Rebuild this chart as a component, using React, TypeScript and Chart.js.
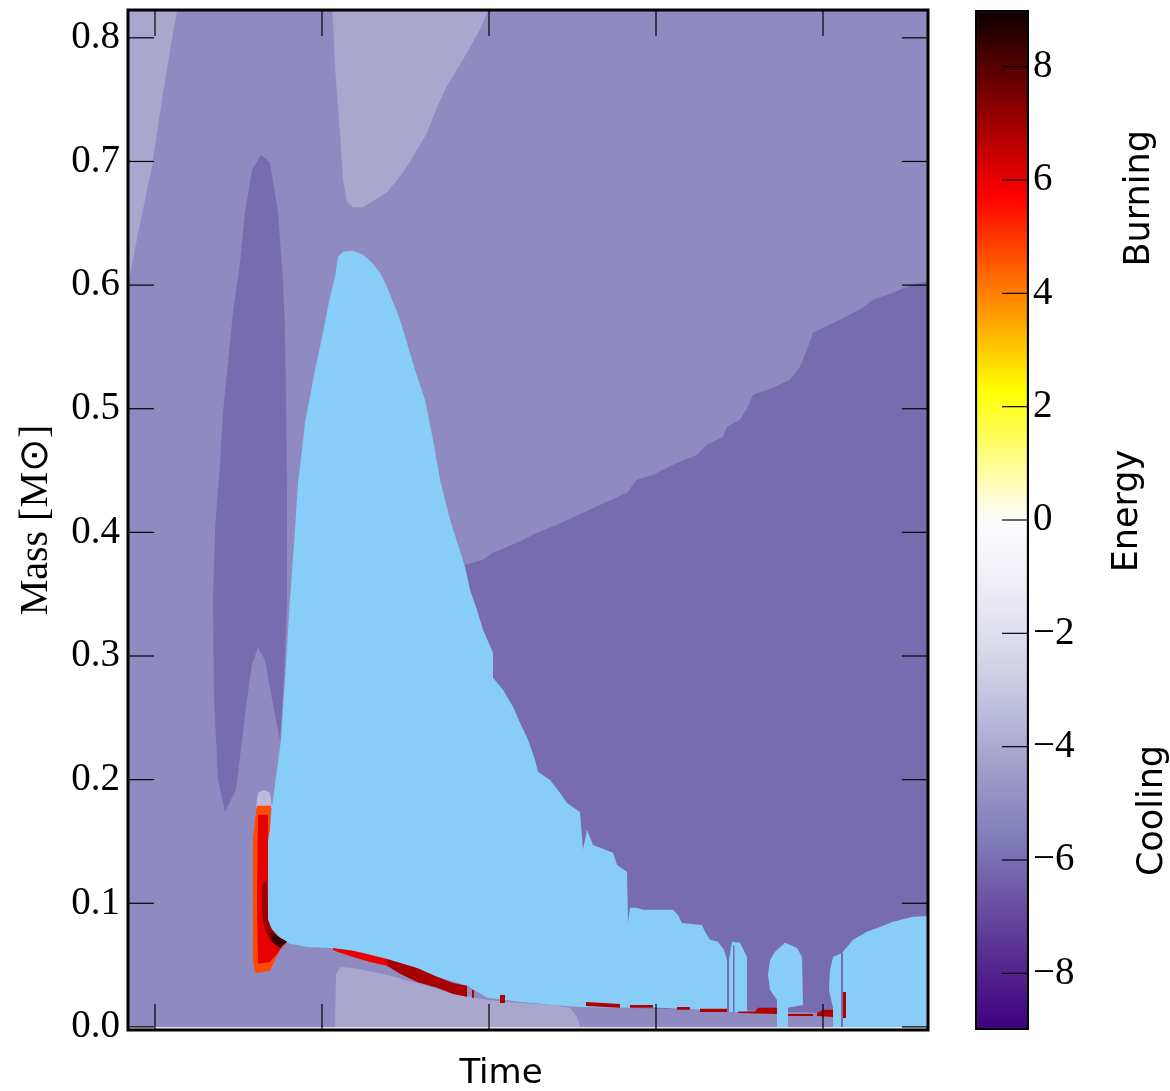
import React, { useEffect, useRef } from 'react';
import { Chart, registerables } from 'chart.js';

Chart.register(...registerables);

type Pt = [number, number];

// ---------- axes ----------
const X_TITLE = 'Time     ';
const Y_TITLE = 'Mass [M⊙]';
const TIME_RANGE: Pt = [0, 800];
const TIME_TICKS = [27, 194, 361, 528, 695];
const MASS_RANGE: Pt = [-0.0025, 0.8225];
const MASS_TICKS = [0, 0.1, 0.2, 0.3, 0.4, 0.5, 0.6, 0.7, 0.8];
const ENERGY_RANGE: Pt = [-9, 9];
const ENERGY_TICKS = [-8, -6, -4, -2, 0, 2, 4, 6, 8];
const SIDE_LABELS = ['Energy', 'Burning', 'Cooling'];
const SIDE_LABEL_AT = [1.24, 6.88, -3.97];

// colour map of the energy bar (value, colour)
const CMAP: [number, string][] = [
  [-9, '#3f007d'], [-7.875, '#54278f'], [-6.75, '#6a51a3'], [-5.625, '#807dba'],
  [-4.5, '#9e9ac8'], [-3.375, '#bcbddc'], [-2.25, '#dadaeb'], [-1.125, '#efedf5'],
  [0, '#fdfcfe'], [2.29, '#ffff00'], [5.71, '#ff0000'], [9, '#0b0000'],
];

// ---------- regions (time, mass) ----------
const background: Pt[] = [[0, 0], [800, 0], [800, 0.83], [0, 0.83]];
const baseStripe: Pt[] = [[0, -0.01], [800, -0.01], [800, 0], [0, 0]];

const lightTopLeft: Pt[] = [[0, 0.83], [51, 0.83], [45, 0.804], [34, 0.75], [24, 0.696], [10, 0.642], [5, 0.621], [0, 0.6]];

const lightTopMid: Pt[] = [[204, 0.83], [207, 0.777], [212, 0.723], [215, 0.685], [219, 0.667], [225, 0.663], [235, 0.663],
  [245, 0.668], [259, 0.675], [275, 0.691], [285, 0.704], [299, 0.723], [309, 0.744], [319, 0.761], [339, 0.788],
  [352, 0.807], [359, 0.82], [364, 0.83]];

const darkLobe: Pt[] = [[133, 0.7055], [142, 0.699], [150, 0.659], [155, 0.604], [157, 0.564], [158, 0.507], [159, 0.426],
  [159, 0.346], [156, 0.281], [152, 0.232], [144, 0.265], [137, 0.297], [130, 0.307], [124, 0.293], [119, 0.265],
  [114, 0.232], [108, 0.192], [97, 0.174], [90, 0.2], [86, 0.265], [85, 0.346], [87, 0.402], [92, 0.456], [95, 0.497],
  [100, 0.537], [105, 0.578], [112, 0.618], [117, 0.659], [124, 0.693]];

const darkRight: Pt[] = [[330, 0.3738], [337, 0.3738], [355, 0.3778], [365, 0.3835], [389, 0.3916], [409, 0.3997],
  [429, 0.4061], [455, 0.4159], [479, 0.4248], [499, 0.432], [509, 0.4426], [525, 0.4466], [545, 0.4547], [569, 0.4628],
  [579, 0.4709], [595, 0.4773], [599, 0.4854], [612, 0.4911], [620, 0.5016], [625, 0.5113], [645, 0.517], [662, 0.5235],
  [672, 0.534], [679, 0.5477], [685, 0.5615], [695, 0.5655], [712, 0.572], [735, 0.5817], [745, 0.5882], [765, 0.5939],
  [779, 0.5987], [792, 0.6019], [800, 0.6027], [800, 0.0105], [705, 0.0105], [675, 0.0121], [640, 0.0121], [619, 0.0138],
  [572, 0.0138], [492, 0.0154], [425, 0.0178], [392, 0.0202], [359, 0.0235], [339, 0.0332], [330, 0.0375]];

const lightBottom: Pt[] = [[207, 0], [208, 0.0421], [212, 0.0485], [225, 0.0477], [259, 0.0421], [289, 0.0356],
  [325, 0.0275], [359, 0.0218], [392, 0.0194], [425, 0.0178], [442, 0.0154], [449, 0.0081], [452, 0]];

const blueMain: Pt[] = [[225, 0.6278], [215, 0.627], [210, 0.623], [207, 0.6068], [202, 0.5906], [197, 0.5696],
  [192, 0.5502], [187, 0.5316], [182, 0.5097], [177, 0.4887], [174, 0.4668], [170, 0.4401], [167, 0.4021], [162, 0.3455],
  [157, 0.2807], [153, 0.2322], [149, 0.2079], [144, 0.178], [140, 0.1513], [140, 0.0866], [142, 0.0809], [152, 0.0704],
  [162, 0.0672], [179, 0.0647], [202, 0.0639], [225, 0.0615], [259, 0.055], [289, 0.0477], [309, 0.0405], [339, 0.0332],
  [359, 0.0235], [392, 0.0202], [425, 0.0178], [452, 0.0162], [492, 0.0154], [532, 0.0154], [572, 0.0138], [619, 0.0113],
  [619, 0.0566], [612, 0.068], [604, 0.0688], [601, 0.0542], [599, 0.0542], [596, 0.0623], [590, 0.0688], [582, 0.0704],
  [577, 0.0769], [574, 0.0825], [554, 0.0841], [550, 0.0906], [545, 0.0947], [515, 0.0947], [509, 0.0963], [502, 0.0963],
  [500, 0.0841], [499, 0.1254], [492, 0.1294], [489, 0.1311], [485, 0.1408], [465, 0.1472], [459, 0.1594], [455, 0.1432],
  [452, 0.1739], [439, 0.1812], [432, 0.1893], [422, 0.1998], [410, 0.2063], [407, 0.216], [400, 0.2322], [392, 0.246],
  [385, 0.2589], [375, 0.2727], [365, 0.2824], [365, 0.3026], [355, 0.3212], [349, 0.3374], [342, 0.3536], [337, 0.3722],
  [330, 0.39], [322, 0.4102], [312, 0.4426], [305, 0.4749], [297, 0.5073], [287, 0.5316], [272, 0.572], [259, 0.5987],
  [252, 0.61], [244, 0.6181], [235, 0.6246]];

const blueBump: Pt[] = [[649, 0], [649, 0.0218], [642, 0.0299], [640, 0.0421], [642, 0.0542], [647, 0.0607], [657, 0.068],
  [669, 0.0639], [674, 0.0566], [675, 0.0178], [660, 0.0154], [660, 0]];

const blueRight: Pt[] = [[705, 0], [705, 0.0154], [701, 0.0299], [702, 0.0461], [705, 0.0566], [714, 0.0599], [719, 0.0647],
  [725, 0.0704], [739, 0.0769], [752, 0.0809], [765, 0.085], [785, 0.089], [800, 0.0898], [800, 0]];

const blueGaps: Pt[][] = [
  [[599, 0.0542], [601, 0.0542], [601, 0.012], [599, 0.012]],
  [[605, 0.066], [606.5, 0.066], [606.5, 0.012], [605, 0.012]],
  [[713, 0.0599], [715, 0.0599], [715, 0], [713, 0]],
];

const burnCap: Pt[] = [[128, 0.1772], [130, 0.1893], [136, 0.1917], [142, 0.1893], [144, 0.1772]];
const burnOuter: Pt[] = [[129, 0.1788], [143, 0.1788], [142, 0.1593], [140, 0.1513], [140, 0.0866], [142, 0.0809],
  [150, 0.0728], [159, 0.0688], [152, 0.0623], [147, 0.0542], [142, 0.0453], [127, 0.0437], [125, 0.0542], [125, 0.1513],
  [127, 0.1675]];
const burnInner: Pt[] = [[130, 0.1715], [140, 0.1715], [140, 0.0866], [142, 0.0809], [150, 0.0728], [157, 0.0688],
  [150, 0.0599], [142, 0.0526], [130, 0.051], [129, 0.1028]];
const burnDeep: Pt[] = [[134, 0.1149], [139, 0.1189], [140, 0.0866], [144, 0.0785], [152, 0.072], [159, 0.0688],
  [155, 0.0663], [148, 0.0663], [142, 0.0704], [137, 0.0785], [134, 0.0906]];
const burnCore: Pt[] = [[142, 0.0769], [159, 0.0688], [152, 0.0639], [144, 0.0688]];

const bandBright: Pt[] = [[205, 0.0639], [225, 0.0615], [242, 0.0583], [259, 0.055], [259, 0.0494], [242, 0.0526],
  [225, 0.0566], [212, 0.0599], [205, 0.0623]];
const bandDark: Pt[] = [[259, 0.055], [289, 0.0477], [309, 0.0405], [325, 0.0356], [339, 0.0332], [339, 0.0243],
  [325, 0.0267], [309, 0.0316], [289, 0.0364], [272, 0.0429], [259, 0.0494]];

const redSpecks: Pt[][] = [
  [[344, 0.0299], [346, 0.0299], [346, 0.0235], [344, 0.0235]],
  [[372, 0.0259], [377, 0.0259], [377, 0.0194], [372, 0.0194]],
  [[458, 0.0202], [492, 0.0186], [492, 0.0154], [458, 0.017]],
  [[502, 0.0178], [525, 0.0178], [525, 0.0154], [502, 0.0154]],
  [[549, 0.0162], [562, 0.0162], [562, 0.0138], [549, 0.0138]],
  [[572, 0.0146], [599, 0.0146], [599, 0.0121], [572, 0.0121]],
  [[610, 0.0125], [627, 0.0125], [630, 0.0154], [649, 0.0154], [649, 0.0105], [610, 0.0113]],
  [[660, 0.0105], [685, 0.0105], [685, 0.0089], [660, 0.0089]],
  [[689, 0.0113], [695, 0.0138], [705, 0.0138], [705, 0.0081], [689, 0.0089]],
  [[715, 0.0283], [718, 0.0283], [718, 0.0073], [715, 0.0073]],
];

const C_MED = '#8f8bc1';
const C_LIGHT = '#aaa7cf';
const C_DARK = '#776caf';
const C_BLUE = '#87cdf8';

const REGIONS: { pts: Pt[]; color: string }[] = [
  { pts: background, color: C_MED },
  { pts: lightTopLeft, color: C_LIGHT },
  { pts: lightTopMid, color: C_LIGHT },
  { pts: darkLobe, color: C_DARK },
  { pts: darkRight, color: C_DARK },
  { pts: lightBottom, color: C_LIGHT },
  { pts: blueMain, color: C_BLUE },
  { pts: blueBump, color: C_BLUE },
  { pts: blueRight, color: C_BLUE },
  ...blueGaps.map((p) => ({ pts: p, color: C_DARK })),
  { pts: burnCap, color: '#bdb9da' },
  { pts: burnOuter, color: '#ff4a00' },
  { pts: burnInner, color: '#e60000' },
  { pts: burnDeep, color: '#9c0000' },
  { pts: burnCore, color: '#3a0000' },
  { pts: bandBright, color: '#ee0000' },
  { pts: bandDark, color: '#a80000' },
  ...redSpecks.map((p) => ({ pts: p, color: '#b00000' })),
  { pts: baseStripe, color: '#e6e4f0' },
];

const frameTicks = {
  id: 'frameTicks',
  afterDraw(chart: any) {
    const { ctx, chartArea: a, scales } = chart;
    const x = scales.x;
    const y = scales.y;
    const L = 26;
    ctx.save();
    ctx.strokeStyle = '#000';
    ctx.lineWidth = 1.2;
    const seg = (x1: number, y1: number, x2: number, y2: number) => {
      ctx.beginPath();
      ctx.moveTo(x1, y1);
      ctx.lineTo(x2, y2);
      ctx.stroke();
    };
    MASS_TICKS.forEach((v) => {
      const p = y.getPixelForValue(v);
      seg(a.left, p, a.left + L, p);
      seg(a.right - L, p, a.right, p);
    });
    TIME_TICKS.forEach((v) => {
      const p = x.getPixelForValue(v);
      seg(p, a.bottom, p, a.bottom - L);
      seg(p, a.top, p, a.top + L);
    });
    ctx.lineWidth = 3;
    ctx.strokeRect(a.left, a.top, a.right - a.left, a.bottom - a.top);
    ctx.restore();
  },
};

const barTicks = {
  id: 'barTicks',
  afterDraw(chart: any) {
    const { ctx, chartArea: a, scales } = chart;
    const y = scales.y;
    ctx.save();
    ctx.strokeStyle = '#000';
    ctx.lineWidth = 1.2;
    ENERGY_TICKS.forEach((v) => {
      const p = y.getPixelForValue(v);
      ctx.beginPath();
      ctx.moveTo(a.right - 27, p);
      ctx.lineTo(a.right, p);
      ctx.stroke();
    });
    ctx.restore();
  },
};

const sideAxis = (i: number, weight: number, width: number) => ({
  axis: 'y',
  type: 'linear',
  position: 'right',
  weight,
  min: ENERGY_RANGE[0],
  max: ENERGY_RANGE[1],
  grid: { display: false, drawTicks: false, tickLength: 0 },
  border: { display: false },
  afterBuildTicks: (s: any) => {
    s.ticks = [{ value: SIDE_LABEL_AT[i] }];
  },
  ticks: {
    autoSkip: false,
    mirror: true,
    minRotation: 90,
    maxRotation: 90,
    padding: 0,
    color: '#000',
    font: { family: 'DejaVu Sans', size: 35 },
    callback: () => SIDE_LABELS[i],
  },
  afterFit: (s: any) => {
    s.width = width;
    s.paddingTop = 0;
    s.paddingBottom = 0;
  },
});

export default function App() {
  const mainRef = useRef<HTMLCanvasElement>(null);
  const barRef = useRef<HTMLCanvasElement>(null);

  useEffect(() => {
    const n = REGIONS.length;
    const main = new Chart(mainRef.current as HTMLCanvasElement, {
      type: 'line',
      data: {
        datasets: REGIONS.map((r, i) => ({
          data: r.pts.map(([x, y]) => ({ x, y })),
          fill: 'shape',
          backgroundColor: r.color,
          borderColor: r.color,
          borderWidth: 0,
          pointRadius: 0,
          pointHoverRadius: 0,
          tension: 0,
          order: n - i,
        })),
      } as any,
      options: {
        responsive: false,
        animation: false,
        devicePixelRatio: 1,
        events: [],
        layout: { padding: { left: 0, right: 12, top: 10, bottom: 0 }, autoPadding: false },
        plugins: { legend: { display: false }, tooltip: { enabled: false } },
        scales: {
          x: {
            type: 'linear',
            min: TIME_RANGE[0],
            max: TIME_RANGE[1],
            grid: { display: false, drawTicks: false, tickLength: 0 },
            border: { display: false },
            ticks: { display: false },
            afterBuildTicks: (s: any) => {
              s.ticks = TIME_TICKS.map((v) => ({ value: v }));
            },
            afterFit: (s: any) => {
              s.height = 61;
              s.paddingLeft = 0;
              s.paddingRight = 0;
            },
            title: {
              display: true,
              text: X_TITLE,
              color: '#000',
              font: { family: 'DejaVu Sans', size: 34 },
              padding: { top: 0, bottom: -4 },
            },
          },
          y: {
            type: 'linear',
            min: MASS_RANGE[0],
            max: MASS_RANGE[1],
            grid: { display: false, drawTicks: false, tickLength: 0 },
            border: { display: false },
            afterBuildTicks: (s: any) => {
              s.ticks = MASS_TICKS.map((v) => ({ value: v }));
            },
            ticks: {
              autoSkip: false,
              padding: 8,
              color: '#000',
              font: { family: 'Liberation Serif', size: 39 },
              callback: (v: any) => Number(v).toFixed(1),
            },
            afterFit: (s: any) => {
              s.width = 128;
              s.paddingTop = 0;
              s.paddingBottom = 0;
            },
            title: {
              display: true,
              text: Y_TITLE,
              color: '#000',
              font: { family: 'Liberation Serif', size: 40 },
              padding: { top: 12, bottom: 0 },
            },
          },
        },
      } as any,
      plugins: [frameTicks],
    });

    const bar = new Chart(barRef.current as HTMLCanvasElement, {
      type: 'bar',
      data: {
        labels: [SIDE_LABELS[0]],
        datasets: [
          {
            data: [ENERGY_RANGE],
            backgroundColor: (c: any) => {
              const ch = c.chart;
              const ys = ch.scales && ch.scales.y;
              if (!ch.chartArea || !ys) return '#ffffff';
              const g = ch.ctx.createLinearGradient(0, ys.getPixelForValue(ENERGY_RANGE[0]), 0, ys.getPixelForValue(ENERGY_RANGE[1]));
              CMAP.forEach(([v, col]) => g.addColorStop((v - ENERGY_RANGE[0]) / (ENERGY_RANGE[1] - ENERGY_RANGE[0]), col));
              return g;
            },
            borderColor: '#000',
            borderWidth: 2.5,
            borderSkipped: false,
            barPercentage: 1,
            categoryPercentage: 1,
          },
        ],
      } as any,
      options: {
        responsive: false,
        animation: false,
        devicePixelRatio: 1,
        events: [],
        layout: { padding: { left: 35, right: 0, top: 10, bottom: 61 }, autoPadding: false },
        plugins: { legend: { display: false }, tooltip: { enabled: false } },
        scales: {
          x: { display: false },
          y: {
            type: 'linear',
            position: 'right',
            weight: 0,
            min: ENERGY_RANGE[0],
            max: ENERGY_RANGE[1],
            grid: { display: false, drawTicks: false, tickLength: 0 },
            border: { display: false },
            afterBuildTicks: (s: any) => {
              s.ticks = ENERGY_TICKS.map((v) => ({ value: v }));
            },
            ticks: {
              autoSkip: false,
              padding: 4,
              color: '#000',
              font: { family: 'Liberation Serif', size: 39 },
              callback: (v: any) => (Number(v) < 0 ? '\u2212' + Math.abs(Number(v)) : String(v)),
            },
            afterFit: (s: any) => {
              s.width = 99;
              s.paddingTop = 0;
              s.paddingBottom = 0;
            },
          },
          yE: sideAxis(0, 1, 12),
          yB: sideAxis(1, 2, 13),
          yC: sideAxis(2, 3, 17),
        },
      } as any,
      plugins: [barTicks],
    });

    return () => {
      main.destroy();
      bar.destroy();
    };
  }, []);

  return (
    <div style={{ position: 'fixed', left: 0, top: 0, width: 1170, height: 1091, background: '#ffffff' }}>
      <canvas ref={mainRef} width={940} height={1091} style={{ position: 'absolute', left: 0, top: 0 }} />
      <canvas ref={barRef} width={230} height={1091} style={{ position: 'absolute', left: 940, top: 0 }} />
    </div>
  );
}
